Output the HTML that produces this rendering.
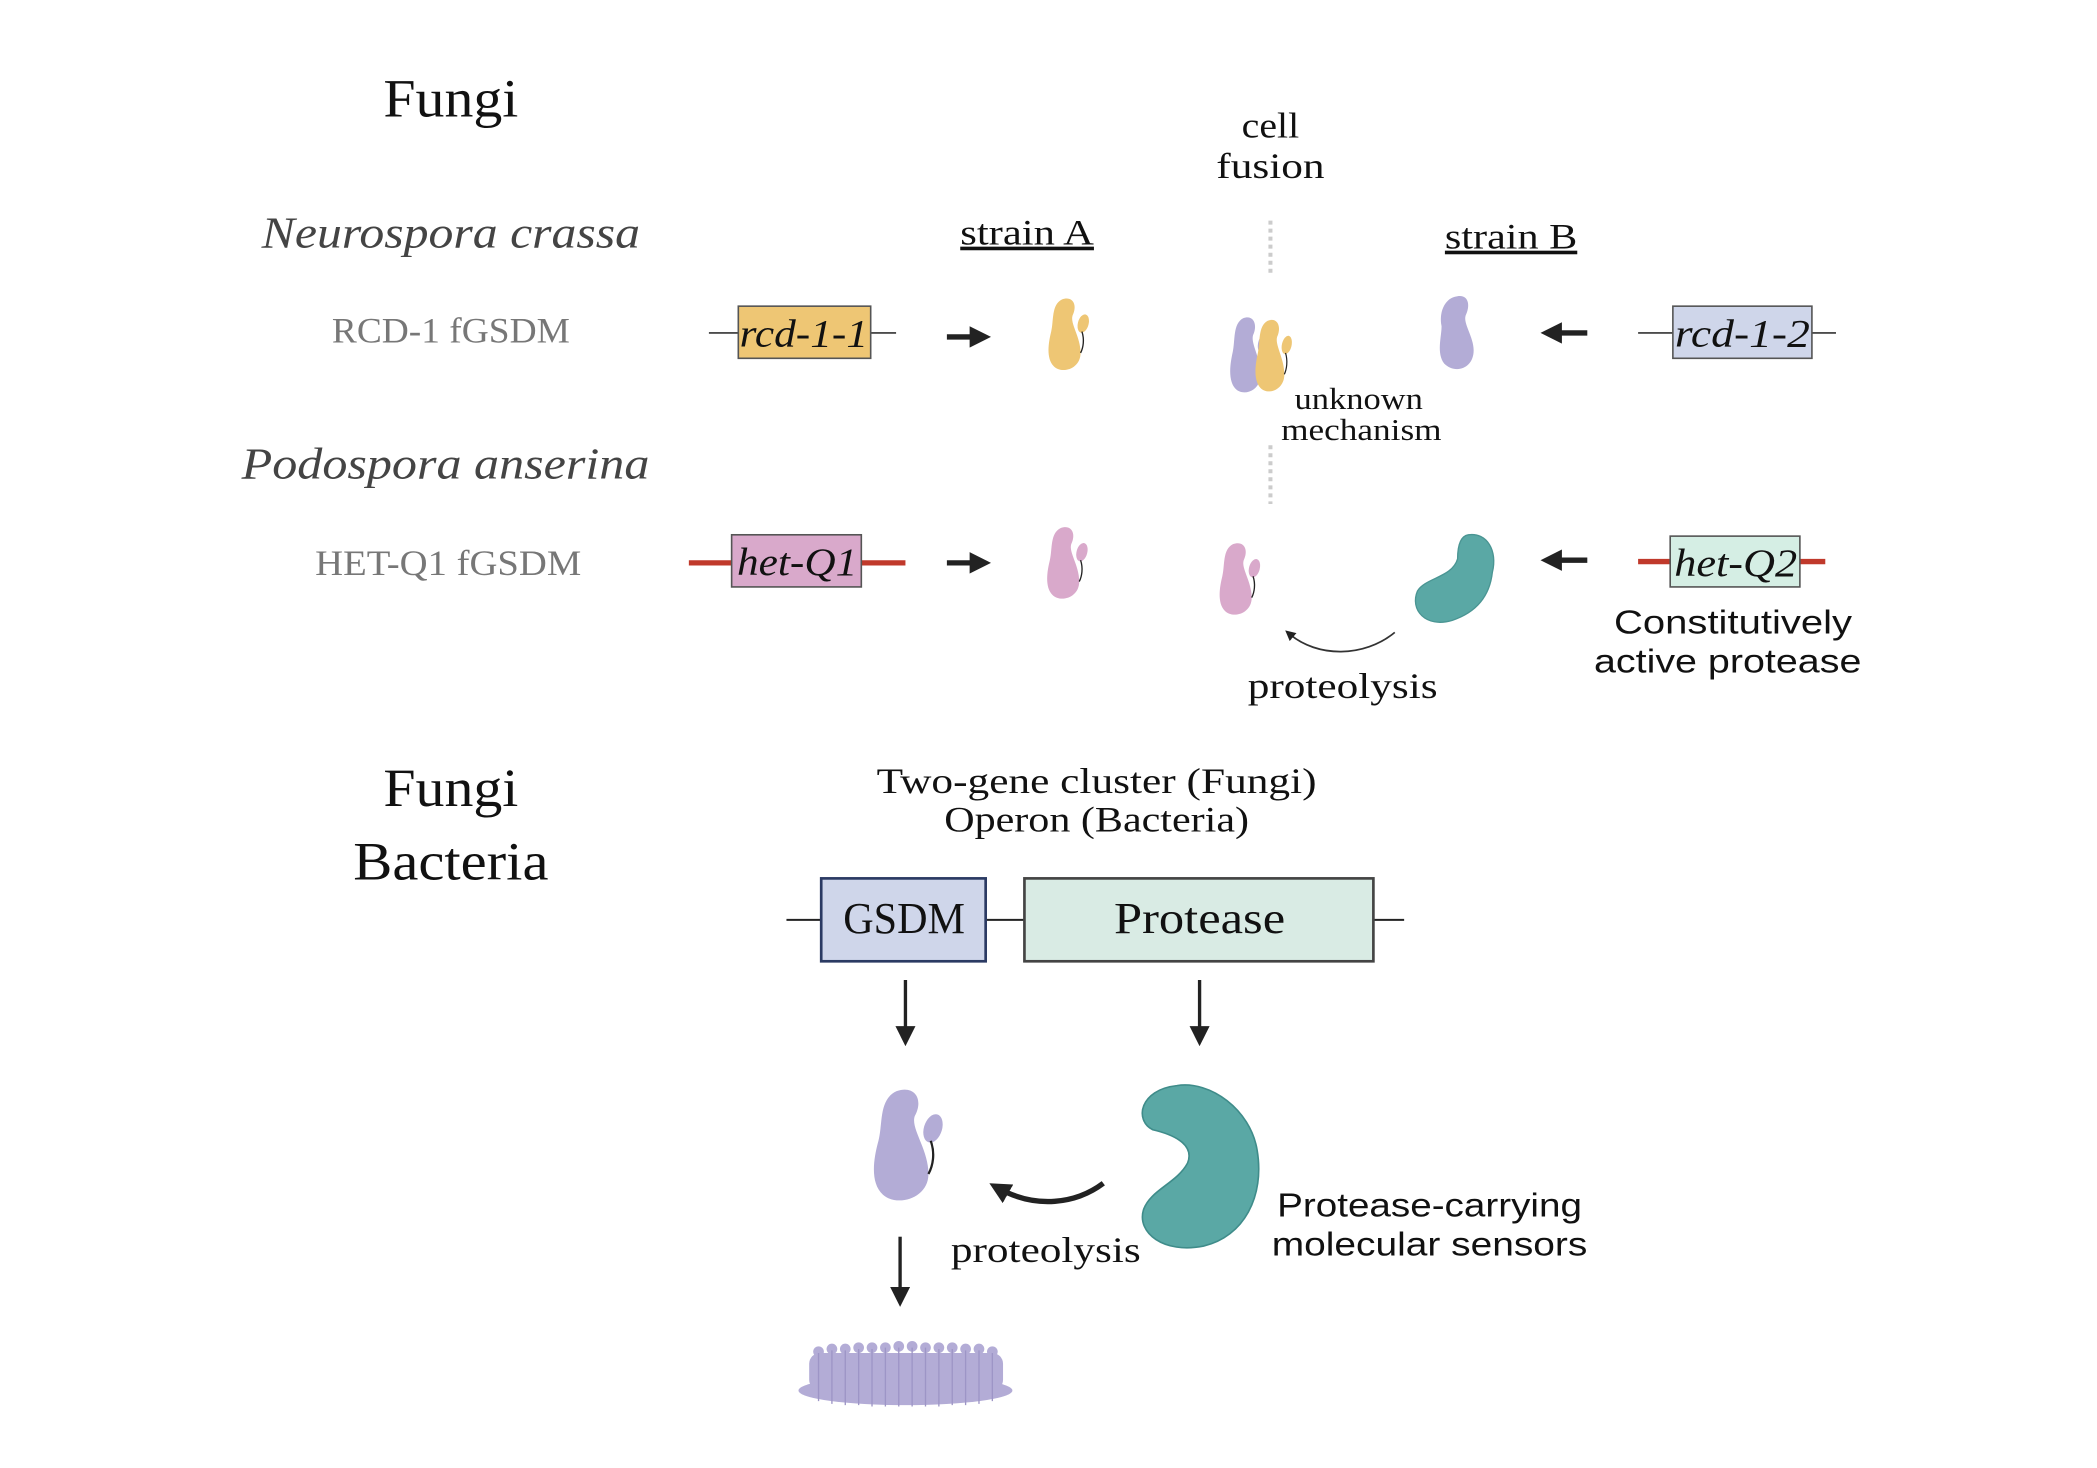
<!DOCTYPE html>
<html><head><meta charset="utf-8"><style>
html,body{margin:0;padding:0;background:#fff;}
svg{display:block;}
.s{font-family:"Liberation Serif",serif;}
.a{font-family:"Liberation Sans","DejaVu Sans",sans-serif;}
</style></head><body>
<svg width="2097" height="1468" viewBox="0 0 1568 1098" xmlns="http://www.w3.org/2000/svg">
<defs>
<g id="prot">
<path d="M12,2 C20,-1 24,6 20,14 C18,20 26,30 26,42 C26,54 12,58 6,52 C0,46 2,34 4,26 C6,18 4,6 12,2 Z"/>
<ellipse cx="28" cy="20" rx="4" ry="7" transform="rotate(15 28 20)"/>
<path d="M27,26 C29,32 28,38 26,42" fill="none" stroke="#222" stroke-width="1"/>
</g>
<marker id="ah" markerWidth="4" markerHeight="4" refX="2.5" refY="2" orient="auto" markerUnits="strokeWidth"><path d="M0,0 L4,2 L0,4 Z" fill="#222"/></marker>
<marker id="ah2" markerWidth="6" markerHeight="6" refX="3" refY="3" orient="auto" markerUnits="strokeWidth"><path d="M0,0 L6,3 L0,6 Z" fill="#222"/></marker>
</defs>
<rect width="1568" height="1098" fill="#fff"/>

<g class="s" text-anchor="middle" lengthAdjust="spacingAndGlyphs">
<text x="337" y="87" font-size="40" fill="#111" textLength="101" lengthAdjust="spacingAndGlyphs">Fungi</text>
<text x="950" y="103" font-size="27" fill="#111" textLength="43" lengthAdjust="spacingAndGlyphs">cell</text>
<text x="950" y="133" font-size="27" fill="#111" textLength="81" lengthAdjust="spacingAndGlyphs">fusion</text>
<text x="337" y="185" font-size="33" font-style="italic" fill="#444" textLength="283" lengthAdjust="spacingAndGlyphs">Neurospora crassa</text>
<text x="768" y="183" font-size="27" fill="#111" text-decoration="underline" textLength="100" lengthAdjust="spacingAndGlyphs">strain A</text>
<text x="1130" y="186" font-size="27" fill="#111" text-decoration="underline" textLength="99" lengthAdjust="spacingAndGlyphs">strain B</text>
<text x="337" y="256" font-size="27" fill="#777" textLength="178" lengthAdjust="spacingAndGlyphs">RCD-1 fGSDM</text>
<text x="1016" y="306" font-size="23" fill="#111" textLength="96" lengthAdjust="spacingAndGlyphs">unknown</text>
<text x="1018" y="329" font-size="23" fill="#111" textLength="120" lengthAdjust="spacingAndGlyphs">mechanism</text>
<text x="333" y="358" font-size="33" font-style="italic" fill="#444" textLength="305" lengthAdjust="spacingAndGlyphs">Podospora anserina</text>
<text x="335" y="430" font-size="27" fill="#777" textLength="199" lengthAdjust="spacingAndGlyphs">HET-Q1 fGSDM</text>
<text x="1004" y="522" font-size="27" fill="#111" textLength="142" lengthAdjust="spacingAndGlyphs">proteolysis</text>
<text x="337" y="603" font-size="40" fill="#111" textLength="101" lengthAdjust="spacingAndGlyphs">Fungi</text>
<text x="337" y="658" font-size="40" fill="#111" textLength="146" lengthAdjust="spacingAndGlyphs">Bacteria</text>
<text x="820" y="593" font-size="27" fill="#111" textLength="329" lengthAdjust="spacingAndGlyphs">Two-gene cluster (Fungi)</text>
<text x="820" y="622" font-size="27" fill="#111" textLength="228" lengthAdjust="spacingAndGlyphs">Operon (Bacteria)</text>
<text x="782" y="944" font-size="27" fill="#111" textLength="142" lengthAdjust="spacingAndGlyphs">proteolysis</text>
</g>
<g class="a" text-anchor="middle" fill="#111">
<text x="1296" y="474" font-size="25" textLength="178" lengthAdjust="spacingAndGlyphs">Constitutively</text>
<text x="1292" y="503" font-size="25" textLength="200" lengthAdjust="spacingAndGlyphs">active protease</text>
<text x="1069" y="910" font-size="25" textLength="228" lengthAdjust="spacingAndGlyphs">Protease-carrying</text>
<text x="1069" y="939" font-size="25" textLength="236" lengthAdjust="spacingAndGlyphs">molecular sensors</text>
</g>

<line x1="950" y1="165" x2="950" y2="207" stroke="#ccc" stroke-width="3" stroke-dasharray="3,3"/>
<line x1="950" y1="333" x2="950" y2="377" stroke="#ccc" stroke-width="3" stroke-dasharray="3,3"/>

<line x1="530" y1="249" x2="670" y2="249" stroke="#333" stroke-width="1.2"/>
<rect x="552" y="229" width="99" height="39" fill="#eec674" stroke="#555" stroke-width="1.2"/>
<text x="601" y="259" class="s" font-size="29" font-style="italic" text-anchor="middle" fill="#111" textLength="96" lengthAdjust="spacingAndGlyphs">rcd-1-1</text>
<line x1="1225" y1="249" x2="1373" y2="249" stroke="#333" stroke-width="1.2"/>
<rect x="1251" y="229" width="104" height="39" fill="#cfd6ea" stroke="#555" stroke-width="1.2"/>
<text x="1303" y="259" class="s" font-size="29" font-style="italic" text-anchor="middle" fill="#111" textLength="101" lengthAdjust="spacingAndGlyphs">rcd-1-2</text>
<line x1="515" y1="421" x2="677" y2="421" stroke="#c0392b" stroke-width="4"/>
<rect x="547" y="400" width="97" height="39" fill="#d9a9cb" stroke="#555" stroke-width="1.2"/>
<text x="596" y="430" class="s" font-size="29" font-style="italic" text-anchor="middle" fill="#111" textLength="90" lengthAdjust="spacingAndGlyphs">het-Q1</text>
<line x1="1225" y1="420" x2="1365" y2="420" stroke="#c0392b" stroke-width="4"/>
<rect x="1249" y="401" width="97" height="38" fill="#d5eee4" stroke="#555" stroke-width="1.2"/>
<text x="1298" y="431" class="s" font-size="29" font-style="italic" text-anchor="middle" fill="#111" textLength="92" lengthAdjust="spacingAndGlyphs">het-Q2</text>

<g stroke="#222" stroke-width="4" marker-end="url(#ah)">
<line x1="708" y1="252" x2="735" y2="252"/>
<line x1="708" y1="421" x2="735" y2="421"/>
<line x1="1187" y1="249" x2="1158" y2="249"/>
<line x1="1187" y1="419" x2="1158" y2="419"/>
</g>

<use href="#prot" fill="#eec674" transform="translate(782,222)"/>
<use href="#prot" fill="#b3acd6" transform="translate(918,236) scale(0.95,1.05)"/>
<use href="#prot" fill="#eec674" transform="translate(937,238) scale(0.9,1.0)"/>
<path d="M1088,222 C1098,219 1100,228 1096,236 C1094,242 1102,252 1102,262 C1102,276 1088,280 1080,272 C1074,264 1078,252 1078,244 C1076,234 1080,224 1088,222 Z" fill="#b3acd6"/>
<use href="#prot" fill="#d9a9cb" transform="translate(781,393)"/>
<use href="#prot" fill="#d9a9cb" transform="translate(910,405)"/>
<path d="M1098,400 C1112,398 1120,412 1116,428 C1114,446 1104,458 1086,464 C1066,470 1054,456 1060,442 C1066,432 1086,432 1090,418 C1090,408 1092,401 1098,400 Z" fill="#5aa8a5" stroke="#4a9593" stroke-width="1"/>
<path d="M1043,473 C1020,492 985,492 964,474" fill="none" stroke="#333" stroke-width="1.3" marker-end="url(#ah2)"/>

<line x1="588" y1="688" x2="1050" y2="688" stroke="#222" stroke-width="1.5"/>
<rect x="614" y="657" width="123" height="62" fill="#cfd6ea" stroke="#2b3a63" stroke-width="2"/>
<text x="676" y="698" class="s" font-size="33" text-anchor="middle" fill="#111" textLength="91" lengthAdjust="spacingAndGlyphs">GSDM</text>
<rect x="766" y="657" width="261" height="62" fill="#d9ebe4" stroke="#444" stroke-width="2"/>
<text x="897" y="698" class="s" font-size="33" text-anchor="middle" fill="#111" textLength="128" lengthAdjust="spacingAndGlyphs">Protease</text>
<g stroke="#222" stroke-width="2.5" marker-end="url(#ah2)">
<line x1="677" y1="733" x2="677" y2="775"/>
<line x1="897" y1="733" x2="897" y2="775"/>
<line x1="673" y1="925" x2="673" y2="970"/>
</g>
<use href="#prot" fill="#b3acd6" transform="translate(650,813) scale(1.7,1.55)"/>
<path d="M880,812 C905,808 935,830 940,860 C946,895 930,925 900,932 C870,938 850,922 855,905 C860,890 880,885 888,870 C894,855 875,848 862,845 C848,838 852,815 880,812 Z" fill="#5aa8a5" stroke="#3f8c8a" stroke-width="1.2"/>
<path d="M825,885 C805,900 775,905 745,888" fill="none" stroke="#222" stroke-width="4" marker-end="url(#ah)"/>
<g fill="#b3acd6">
<rect x="605" y="1012" width="145" height="28" rx="8"/>
<ellipse cx="677" cy="1040" rx="80" ry="11"/>
<circle cx="612" cy="1011" r="4"/><circle cx="622" cy="1009" r="4"/><circle cx="632" cy="1009" r="4"/><circle cx="642" cy="1008" r="4"/><circle cx="652" cy="1008" r="4"/><circle cx="662" cy="1008" r="4"/><circle cx="672" cy="1007" r="4"/><circle cx="682" cy="1007" r="4"/><circle cx="692" cy="1008" r="4"/><circle cx="702" cy="1008" r="4"/><circle cx="712" cy="1008" r="4"/><circle cx="722" cy="1009" r="4"/><circle cx="732" cy="1009" r="4"/><circle cx="742" cy="1011" r="4"/>
</g>
<g stroke="#9d95c6" stroke-width="1" fill="none">
<path d="M612,1012 v36 M622,1010 v40 M632,1010 v41 M642,1009 v42 M652,1009 v43 M662,1008 v44 M672,1008 v44 M682,1008 v44 M692,1008 v44 M702,1009 v43 M712,1009 v42 M722,1010 v41 M732,1010 v40 M742,1012 v36"/>
</g>
</svg>
</body></html>
